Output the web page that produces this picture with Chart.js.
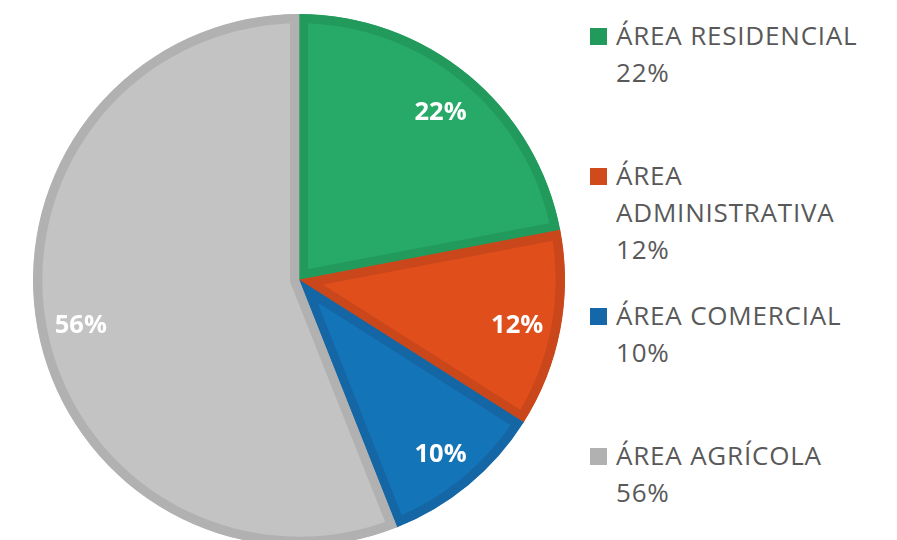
<!DOCTYPE html>
<html>
<head>
<meta charset="utf-8">
<script src="https://cdn.jsdelivr.net/npm/chart.js@4/dist/chart.umd.min.js"></script>
<style>
  html, body { margin: 0; padding: 0; background: #ffffff; width: 897px; height: 540px; overflow: hidden; }
  #wrap { position: absolute; left: 33px; top: 14px; width: 532px; height: 532px; }
  #legend { position: absolute; left: 590px; top: 0; width: 307px; font-family: "Open Sans", sans-serif; font-size: 26px; letter-spacing: 0.8px; line-height: 37px; color: #595959; }
  .item { position: absolute; left: 0; width: 300px; }
  .sq { position: absolute; left: 0; top: 11px; width: 17px; height: 17px; }
  .txt { position: absolute; left: 26px; width: 268px; white-space: normal; }
</style>
</head>
<body>
<div id="wrap"><canvas id="c"></canvas></div>
<div id="legend"></div>
<script>
const categories = ["ÁREA RESIDENCIAL", "ÁREA ADMINISTRATIVA", "ÁREA COMERCIAL", "ÁREA AGRÍCOLA"];
const values = [22, 12, 10, 56];
const fillColors = ["#27AA68", "#E04E1C", "#1474B8", "#C3C3C3"];
const borderColors = ["#229A5B", "#C9471A", "#1466A5", "#B1B1B1"];
const legendColors = ["#229A5B", "#D04A1B", "#1468AA", "#B1B1B1"];

const sliceLabels = {
  id: 'sliceLabels',
  afterDatasetsDraw(chart) {
    const ctx = chart.ctx;
    const meta = chart.getDatasetMeta(0);
    ctx.save();
    ctx.font = 'bold 25.5px "Open Sans", sans-serif';
    ctx.fillStyle = '#ffffff';
    ctx.textAlign = 'center';
    ctx.textBaseline = 'middle';
    meta.data.forEach((arc, i) => {
      const p = arc.getProps(['x', 'y', 'startAngle', 'endAngle', 'outerRadius'], true);
      const mid = (p.startAngle + p.endAngle) / 2;
      const r = p.outerRadius * 0.835;
      ctx.fillText(values[i] + '%', p.x + Math.cos(mid) * r, p.y + 4 + Math.sin(mid) * r);
    });
    ctx.restore();
  }
};

new Chart(document.getElementById('c'), {
  type: 'pie',
  data: {
    labels: categories,
    datasets: [{
      data: values,
      backgroundColor: fillColors,
      borderColor: borderColors,
      borderWidth: 9,
      borderAlign: 'inner',
      borderJoinStyle: 'miter'
    }]
  },
  options: {
    responsive: true,
    maintainAspectRatio: false,
    animation: false,
    layout: { padding: 0 },
    plugins: { legend: { display: false }, tooltip: { enabled: false } }
  },
  plugins: [sliceLabels]
});

const legend = document.getElementById('legend');
const tops = [17, 157, 297, 437];
categories.forEach((c, i) => {
  const item = document.createElement('div');
  item.className = 'item';
  item.style.top = tops[i] + 'px';
  const sq = document.createElement('div');
  sq.className = 'sq';
  sq.style.background = legendColors[i];
  const txt = document.createElement('div');
  txt.className = 'txt';
  txt.innerHTML = c + '<br>' + values[i] + '%';
  item.appendChild(sq);
  item.appendChild(txt);
  legend.appendChild(item);
});
</script>
</body>
</html>
